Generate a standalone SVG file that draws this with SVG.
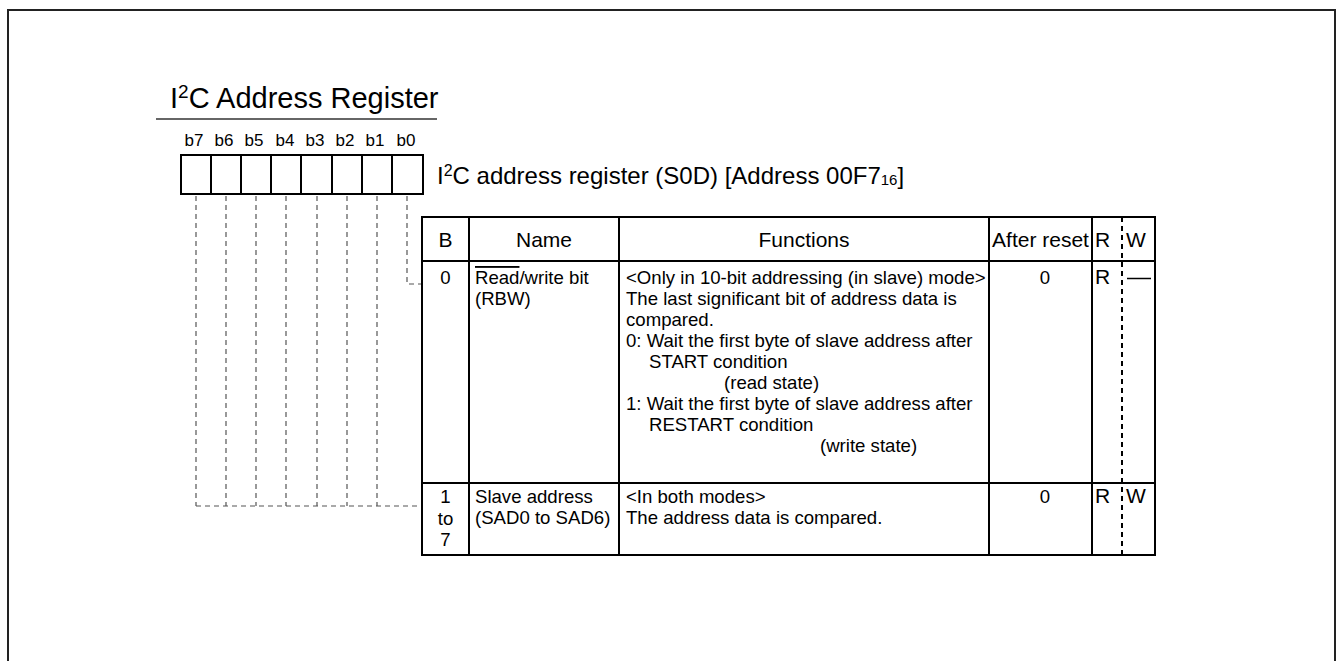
<svg xmlns="http://www.w3.org/2000/svg" width="1339" height="661" viewBox="0 0 1339 661">
<style>
text{font-family:"Liberation Sans",Arial,sans-serif;fill:#000}
.t{font-size:29px}
.sub{font-size:24px}
.bl{font-size:17px;text-anchor:middle}
.h{font-size:21px;text-anchor:middle}
.rl{font-size:21px}
.b{font-size:18.6px}
.c{text-anchor:middle}
.box{fill:#fff;stroke:#000;stroke-width:2}
.grid{stroke:#000;stroke-width:2;fill:none}
.conn{stroke:#555;stroke-width:1.2;fill:none;stroke-dasharray:5 4}
.rw{stroke:#000;stroke-width:2;stroke-dasharray:5 4}
</style>
<rect width="1339" height="661" fill="#fff"/>
<path d="M8,661 V10 H1335 V661" fill="none" stroke="#222" stroke-width="2"/>
<g id="title">
<text class="t" x="170" y="108">I<tspan font-size="19" dy="-10">2</tspan><tspan dy="10">C Address Register</tspan></text>
<line x1="156" y1="119" x2="437" y2="119" stroke="#333" stroke-width="1.5"/>
</g>
<g id="register">
<text class="bl" x="194" y="146">b7</text>
<text class="bl" x="224" y="146">b6</text>
<text class="bl" x="254" y="146">b5</text>
<text class="bl" x="285" y="146">b4</text>
<text class="bl" x="315" y="146">b3</text>
<text class="bl" x="345" y="146">b2</text>
<text class="bl" x="375" y="146">b1</text>
<text class="bl" x="406" y="146">b0</text>
<rect class="box" x="181" y="155" width="242" height="39"/>
<path class="grid" d="M211,155V194M241,155V194M271,155V194M301,155V194M332,155V194M362,155V194M392,155V194"/>
<text class="sub" x="437" y="184">I<tspan font-size="16" dy="-8">2</tspan><tspan dy="8">C address register (S0D) [Address 00F7</tspan><tspan font-size="15" dy="1">16</tspan><tspan dy="-1">]</tspan></text>
</g>
<g id="connectors">
<path class="conn" d="M196,196V506M226,196V506M256,196V506M286,196V506M317,196V506M347,196V506M377,196V506M196,506H422"/>
<path class="conn" d="M407,196V284H422"/>
</g>
<g id="table">
<rect class="grid" x="422" y="217" width="733" height="338"/>
<path class="grid" d="M422,261H1155M422,483H1155M469,217V555M619,217V555M989,217V555M1092,217V555"/>
<line class="rw" x1="1122" y1="217" x2="1122" y2="555"/>
<text class="h" x="445.5" y="247">B</text>
<text class="h" x="544" y="247">Name</text>
<text class="h" x="804" y="247">Functions</text>
<text class="h" x="1040.5" y="247">After reset</text>
<text class="rl" x="1095" y="247">R</text>
<text class="rl" x="1126" y="247">W</text>
</g>
<g id="row0">
<text class="b c" x="445.5" y="284">0</text>
<text class="b" x="475" y="284"><tspan text-decoration="overline">Read</tspan>/write bit</text>
<text class="b" x="475" y="305">(RBW)</text>
<text class="b" x="626" y="284">&lt;Only in 10-bit addressing (in slave) mode&gt;</text>
<text class="b" x="626" y="305">The last significant bit of address data is</text>
<text class="b" x="626" y="326">compared.</text>
<text class="b" x="626" y="347">0: Wait the first byte of slave address after</text>
<text class="b" x="649" y="368">START condition</text>
<text class="b" x="724" y="389">(read state)</text>
<text class="b" x="626" y="410">1: Wait the first byte of slave address after</text>
<text class="b" x="649" y="431">RESTART condition</text>
<text class="b" x="820" y="452">(write state)</text>
<text class="b c" x="1045" y="284">0</text>
<text class="rl" x="1095" y="284">R</text>
<line x1="1127" y1="278.5" x2="1151" y2="278.5" stroke="#000" stroke-width="1.5"/>
</g>
<g id="row1">
<text class="b c" x="445.5" y="503">1</text>
<text class="b c" x="445.5" y="524.5">to</text>
<text class="b c" x="445.5" y="546">7</text>
<text class="b" x="475" y="503">Slave address</text>
<text class="b" x="475" y="524">(SAD0 to SAD6)</text>
<text class="b" x="626" y="503">&lt;In both modes&gt;</text>
<text class="b" x="626" y="524">The address data is compared.</text>
<text class="b c" x="1045" y="503">0</text>
<text class="rl" x="1095" y="503">R</text>
<text class="rl" x="1126" y="503">W</text>
</g>
</svg>
